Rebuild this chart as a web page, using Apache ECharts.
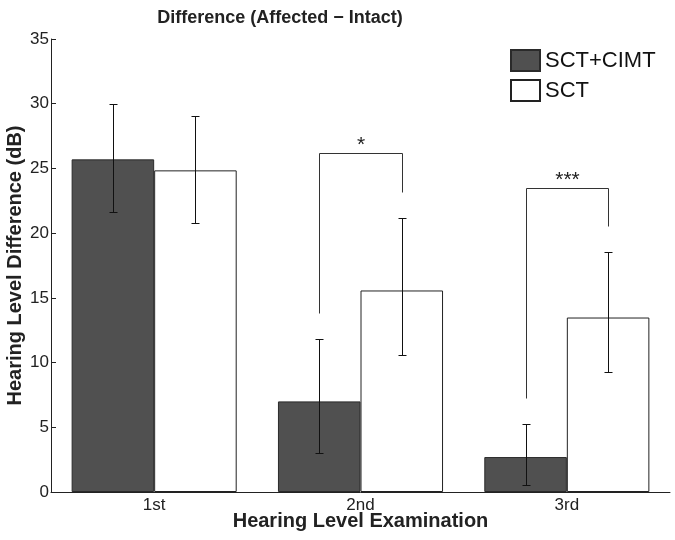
<!DOCTYPE html>
<html>
<head>
<meta charset="utf-8">
<script src="https://cdn.jsdelivr.net/npm/echarts@6/dist/echarts.min.js"></script>
<style>
html,body{margin:0;padding:0;background:#fff;}
#c{width:675px;height:540px;}
</style>
</head>
<body>
<div id="c"></div>
<script>
var categories = ['1st', '2nd', '3rd'];
var yTicks = [0, 5, 10, 15, 20, 25, 30, 35];
var combinedMean = [25.7, 7.0, 2.7];
var combinedLow = [21.65, 3.0, 0.57];
var combinedHigh = [29.95, 11.8, 5.29];
var sctMean = [24.85, 15.57, 13.48];
var sctLow = [20.78, 10.6, 9.25];
var sctHigh = [29.02, 21.14, 18.51];
var bracketCat = [1, 2];
var bracketTop = [26.16, 23.48];
var bracketLeftEnd = [13.84, 7.3];
var bracketRightEnd = [23.15, 20.52];
var bracketLabel = ['*', '***'];

var FONT = '"Liberation Sans", Arial, Helvetica, sans-serif';
var chart = echarts.init(document.getElementById('c'), null, {renderer: 'canvas'});

function errData(low, high, side) {
  return categories.map(function (c, i) { return [i, low[i], high[i], side]; });
}

function renderErr(params, api) {
  var i = api.value(0), lo = api.value(1), hi = api.value(2), side = api.value(3);
  var band = api.size([1, 0])[0];
  var off = side * band * 0.2;
  var p1 = api.coord([i, lo]);
  var p2 = api.coord([i, hi]);
  var x = Math.round(p1[0] + off) + 0.5;
  var y1 = Math.round(p1[1]) + 0.5, y2 = Math.round(p2[1]) + 0.5;
  var cap = 4;
  var st = {stroke: '#111', lineWidth: 1, fill: null};
  return {type: 'group', children: [
    {type: 'line', shape: {x1: x, y1: y1, x2: x, y2: y2}, style: st},
    {type: 'line', shape: {x1: x - cap, y1: y1, x2: x + cap, y2: y1}, style: st},
    {type: 'line', shape: {x1: x - cap, y1: y2, x2: x + cap, y2: y2}, style: st}
  ]};
}

var bracketData = bracketCat.map(function (c, k) {
  return [c, bracketTop[k], bracketLeftEnd[k], bracketRightEnd[k], k];
});

function renderBracket(params, api) {
  var i = api.value(0), top = api.value(1), le = api.value(2), re = api.value(3), k = api.value(4);
  var band = api.size([1, 0])[0];
  var pc = api.coord([i, top]);
  var xl = Math.round(pc[0] - band * 0.2) + 0.5;
  var xr = Math.round(pc[0] + band * 0.2) + 0.5;
  var yt = Math.round(pc[1]) + 0.5;
  var yl = Math.round(api.coord([i, le])[1]) + 0.5;
  var yr = Math.round(api.coord([i, re])[1]) + 0.5;
  var st = {stroke: '#333', lineWidth: 1, fill: null};
  return {type: 'group', children: [
    {type: 'polyline', shape: {points: [[xl, yl], [xl, yt], [xr, yt], [xr, yr]]}, style: st},
    {type: 'text', x: (xl + xr) / 2, y: yt - 8, style: {
      text: bracketLabel[k], textAlign: 'center', textVerticalAlign: 'middle',
      font: '21px ' + FONT, fill: '#222'}}
  ]};
}

var option = {
  backgroundColor: '#fff',
  animation: false,
  textStyle: {fontFamily: FONT},
  grid: {left: 51, right: 5, top: 39, bottom: 48, containLabel: false, outerBoundsMode: 'none'},
  legend: {
    orient: 'vertical', left: 510, top: 49, padding: 0, itemWidth: 29, itemHeight: 21, itemGap: 7,
    textStyle: {fontSize: 22, color: '#111', fontFamily: FONT},
    data: [{name: 'SCT+CIMT', icon: 'rect'}, {name: 'SCT', icon: 'rect'}]
  },
  xAxis: {
    type: 'category', data: categories,
    axisLine: {lineStyle: {color: '#222', width: 1}},
    axisTick: {show: false},
    axisLabel: {fontSize: 17, color: '#222', margin: 5, fontFamily: FONT},
    name: 'Hearing Level Examination', nameLocation: 'middle', nameGap: 19, nameMoveOverlap: false,
    nameTextStyle: {fontSize: 20, fontWeight: 'bold', color: '#222', fontFamily: FONT}
  },
  yAxis: {
    type: 'value', min: 0, max: 35, interval: 5,
    axisLine: {show: true, lineStyle: {color: '#222', width: 1}},
    axisTick: {show: true, inside: true, length: 5, lineStyle: {color: '#222'}},
    splitLine: {show: false},
    axisLabel: {fontSize: 17, color: '#222', margin: 2, fontFamily: FONT},
    name: 'Hearing Level Difference (dB)', nameLocation: 'middle', nameGap: 26, nameMoveOverlap: false,
    nameTextStyle: {fontSize: 20, fontWeight: 'bold', color: '#222', fontFamily: FONT}
  },
  graphic: [{
    type: 'text', x: 280, y: 18,
    style: {text: 'Difference (Affected \u2212 Intact)', textAlign: 'center', textVerticalAlign: 'middle',
      font: 'bold 18px ' + FONT, fill: '#222'}
  }],
  series: [
    {name: 'SCT+CIMT', type: 'bar', data: combinedMean, barWidth: '40%', barGap: '0%',
      itemStyle: {color: '#505050', borderColor: '#2a2a2a', borderWidth: 1}},
    {name: 'SCT', type: 'bar', data: sctMean, barWidth: '40%', barGap: '0%',
      itemStyle: {color: '#ffffff', borderColor: '#222', borderWidth: 1}},
    {type: 'custom', renderItem: renderErr, data: errData(combinedLow, combinedHigh, -1), z: 5,
      encode: {x: 0, y: [1, 2]}},
    {type: 'custom', renderItem: renderErr, data: errData(sctLow, sctHigh, 1), z: 5,
      encode: {x: 0, y: [1, 2]}},
    {type: 'custom', renderItem: renderBracket, data: bracketData, z: 5,
      encode: {x: 0, y: [1, 2, 3]}}
  ]
};
chart.setOption(option);
</script>
</body>
</html>
